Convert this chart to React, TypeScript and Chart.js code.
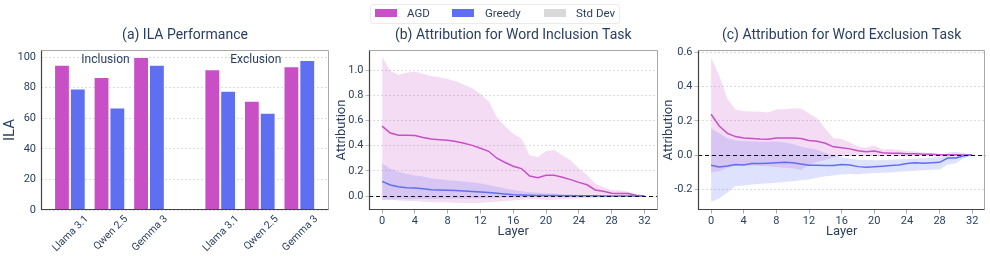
import React, { useEffect, useRef } from 'react';
import { Chart, registerables } from 'chart.js';

Chart.register(...registerables);
Chart.defaults.font.family = 'Roboto, "Noto Sans", sans-serif';

// ---------- data ----------
const modelLabels = ['Llama 3.1', 'Qwen 2.5', 'Gemma 3', 'Llama 3.1', 'Qwen 2.5', 'Gemma 3'];
const barPositions = [0, 1, 2, 3.8, 4.8, 5.8];
const agdILA = [95, 87, 100, 92, 71.5, 94];
const greedyILA = [79.5, 67, 95, 78, 63.5, 98];
const groupLabels = ['Inclusion', 'Exclusion'];
const groupLabelX = [0.9, 4.7];
const groupLabelY = 98;
const ilaTicks = [0, 20, 40, 60, 80, 100];

const layers = [0, 1, 2, 3, 4, 5, 6, 7, 8, 9, 10, 11, 12, 13, 14, 15, 16, 17, 18, 19, 20, 21, 22, 23, 24, 25, 26, 27, 28, 29, 30, 31, 32];
const layerTicks = [0, 4, 8, 12, 16, 20, 24, 28, 32];
const inclusionTicks = [0, 0.2, 0.4, 0.6, 0.8, 1.0];
const exclusionTicks = [-0.2, 0, 0.2, 0.4, 0.6];

// (b) word inclusion
const agdMeanB = [0.555, 0.5, 0.482, 0.483, 0.48, 0.465, 0.452, 0.447, 0.442, 0.432, 0.418, 0.402, 0.379, 0.355, 0.3, 0.266, 0.236, 0.218, 0.158, 0.145, 0.165, 0.164, 0.149, 0.13, 0.108, 0.089, 0.048, 0.037, 0.022, 0.02, 0.02, 0.006, 0.0];
const agdUpperB = [1.105, 0.995, 0.963, 0.979, 0.987, 0.968, 0.952, 0.942, 0.929, 0.91, 0.884, 0.855, 0.81, 0.752, 0.626, 0.553, 0.495, 0.455, 0.324, 0.31, 0.355, 0.365, 0.322, 0.284, 0.218, 0.166, 0.1, 0.069, 0.047, 0.045, 0.034, 0.008, 0.0];
const agdLowerB = [-0.03, -0.03, -0.035, -0.04, -0.04, -0.045, -0.05, -0.05, -0.05, -0.055, -0.055, -0.055, -0.055, -0.05, -0.045, -0.04, -0.035, -0.03, -0.025, -0.025, -0.032, -0.03, -0.025, -0.022, -0.02, -0.016, -0.013, -0.012, -0.01, -0.008, -0.006, -0.003, 0.0];
const greedyMeanB = [0.116, 0.087, 0.074, 0.066, 0.063, 0.057, 0.05, 0.048, 0.046, 0.043, 0.04, 0.036, 0.032, 0.027, 0.021, 0.016, 0.011, 0.009, 0.007, 0.005, 0.004, 0.004, 0.003, 0.003, 0.002, 0.002, 0.002, 0.001, 0.001, 0.001, 0.001, 0.0, 0.0];
const greedyUpperB = [0.258, 0.216, 0.192, 0.174, 0.163, 0.155, 0.14, 0.133, 0.126, 0.121, 0.116, 0.108, 0.1, 0.088, 0.074, 0.06, 0.047, 0.038, 0.03, 0.025, 0.02, 0.018, 0.015, 0.012, 0.01, 0.009, 0.007, 0.006, 0.005, 0.004, 0.003, 0.002, 0.0];
const greedyLowerB = [-0.03, -0.028, -0.026, -0.025, -0.025, -0.024, -0.024, -0.023, -0.022, -0.022, -0.021, -0.02, -0.02, -0.018, -0.016, -0.014, -0.012, -0.01, -0.008, -0.007, -0.006, -0.005, -0.004, -0.004, -0.003, -0.003, -0.002, -0.002, -0.002, -0.001, -0.001, 0.0, 0.0];

// (c) word exclusion
const agdMeanC = [0.239, 0.17, 0.127, 0.108, 0.1, 0.097, 0.094, 0.093, 0.1, 0.1, 0.1, 0.097, 0.085, 0.081, 0.069, 0.048, 0.042, 0.036, 0.025, 0.019, 0.023, 0.013, 0.011, 0.01, 0.008, 0.008, 0.005, 0.004, 0.002, 0.001, 0.001, 0.0, 0.0];
const agdUpperC = [0.571, 0.465, 0.33, 0.266, 0.256, 0.255, 0.253, 0.249, 0.266, 0.268, 0.272, 0.272, 0.243, 0.214, 0.156, 0.098, 0.094, 0.074, 0.05, 0.043, 0.055, 0.033, 0.035, 0.029, 0.023, 0.021, 0.015, 0.01, 0.006, 0.004, 0.004, 0.002, 0.0];
const agdLowerC = [-0.103, -0.095, -0.075, -0.065, -0.06, -0.062, -0.064, -0.066, -0.07, -0.074, -0.078, -0.088, -0.06, -0.04, -0.027, -0.015, -0.008, -0.006, -0.005, -0.005, -0.005, -0.004, -0.004, -0.003, -0.003, -0.003, -0.002, -0.002, -0.002, -0.001, -0.001, 0.0, 0.0];
const greedyMeanC = [-0.06, -0.07, -0.064, -0.056, -0.058, -0.05, -0.05, -0.048, -0.045, -0.043, -0.045, -0.052, -0.06, -0.06, -0.062, -0.062, -0.056, -0.058, -0.068, -0.071, -0.069, -0.066, -0.062, -0.058, -0.05, -0.046, -0.048, -0.046, -0.043, -0.018, -0.018, -0.004, 0.0];
const greedyUpperC = [0.156, 0.127, 0.098, 0.085, 0.081, 0.08, 0.077, 0.077, 0.079, 0.073, 0.064, 0.05, 0.04, 0.031, 0.012, -0.004, -0.015, -0.02, -0.027, -0.028, -0.031, -0.029, -0.027, -0.025, -0.023, -0.021, -0.019, -0.016, -0.012, 0.015, 0.017, 0.012, 0.0];
const greedyLowerC = [-0.274, -0.255, -0.22, -0.182, -0.178, -0.172, -0.168, -0.166, -0.162, -0.158, -0.153, -0.148, -0.143, -0.133, -0.124, -0.12, -0.114, -0.11, -0.112, -0.108, -0.106, -0.104, -0.102, -0.098, -0.095, -0.092, -0.089, -0.087, -0.085, -0.056, -0.048, -0.018, 0.0];

// ---------- styles ----------
const AGD = '#C94FC6';
const GREEDY = '#5F6FF2';
const AGD_BAND = 'rgba(201, 79, 198, 0.2)';
const GREEDY_BAND = 'rgba(95, 111, 242, 0.2)';
const STD = '#d9d9d9';
const TEXT = '#2a3f5f';
const GRID = '#d4d4d4';
const H = 257;

const framePlugin = {
  id: 'frame',
  afterDatasetsDraw(chart: any, _args: any, opts: any) {
    const { ctx, chartArea } = chart;
    const { left, right } = chartArea;
    ctx.save();
    if (opts && opts.zeroLine) {
      const y = Math.round(chart.scales.y.getPixelForValue(0)) + 0.5;
      ctx.setLineDash([4, 3]);
      ctx.strokeStyle = '#111';
      ctx.lineWidth = 1;
      ctx.beginPath();
      ctx.moveTo(left, y);
      ctx.lineTo(right, y);
      ctx.stroke();
      ctx.setLineDash([]);
    }
    if (opts && opts.labels) {
      ctx.fillStyle = TEXT;
      ctx.font = '12px Roboto, "Noto Sans", sans-serif';
      ctx.textAlign = 'center';
      ctx.textBaseline = 'middle';
      opts.labels.forEach((t: string, i: number) => {
        ctx.fillText(t, chart.scales.x.getPixelForValue(opts.labelX[i]), chart.scales.y.getPixelForValue(opts.labelY));
      });
    }
    ctx.restore();
  },
  afterDraw(chart: any) {
    const { ctx, chartArea } = chart;
    const l = Math.round(chartArea.left) + 0.5;
    const r = Math.round(chartArea.right) - 0.5;
    const t = Math.round(chartArea.top) + 0.5;
    const b = Math.round(chartArea.bottom) - 0.5;
    ctx.save();
    ctx.lineWidth = 1;
    ctx.strokeStyle = '#a8a8a8';
    ctx.beginPath();
    ctx.moveTo(l, t);
    ctx.lineTo(r, t);
    ctx.lineTo(r, b);
    ctx.stroke();
    ctx.strokeStyle = '#444';
    ctx.lineWidth = 1.2;
    ctx.beginPath();
    ctx.moveTo(l, t);
    ctx.lineTo(l, b);
    ctx.lineTo(r, b);
    ctx.stroke();
    ctx.restore();
  },
};

const tickFont = { size: 11 };
const titleFont = { size: 14, weight: 'normal' };
const titlePadding = { top: 26.6, bottom: 6.6 };

function pts(arr: number[]) {
  return arr.map((y, i) => ({ x: layers[i], y }));
}

function makeBarConfig(): any {
  return {
    type: 'bar',
    data: {
      datasets: [
        {
          label: 'AGD',
          data: barPositions.map((x, i) => ({ x, y: agdILA[i] })),
          backgroundColor: AGD,
          borderColor: 'rgba(255,255,255,0.3)',
          borderWidth: 1,
          categoryPercentage: 0.8,
          barPercentage: 1.0,
        },
        {
          label: 'Greedy',
          data: barPositions.map((x, i) => ({ x, y: greedyILA[i] })),
          backgroundColor: GREEDY,
          borderColor: 'rgba(255,255,255,0.3)',
          borderWidth: 1,
          categoryPercentage: 0.8,
          barPercentage: 1.0,
        },
      ],
    },
    plugins: [framePlugin],
    options: {
      animation: false,
      responsive: false,
      layout: { padding: { left: 0, right: 1, top: 0, bottom: 0 } },
      plugins: {
        legend: { display: false },
        tooltip: { enabled: false },
        title: {
          display: true,
          fullSize: false,
          text: '(a) ILA Performance',
          color: TEXT,
          font: titleFont,
          padding: titlePadding,
        },
        frame: { labels: groupLabels, labelX: groupLabelX, labelY: groupLabelY },
      },
      scales: {
        x: {
          type: 'linear',
          min: -0.73,
          max: 6.55,
          offset: false,
          afterBuildTicks: (s: any) => {
            s.ticks = barPositions.map((v) => ({ value: v }));
          },
          afterFit: (s: any) => {
            s.height = 47;
          },
          grid: { drawOnChartArea: false, drawTicks: false },
          border: { display: false },
          ticks: {
            autoSkip: false,
            minRotation: 45,
            maxRotation: 45,
            labelOffset: 17,
            padding: 3,
            color: TEXT,
            font: { size: 10.5 },
            callback: (_v: any, i: number) => modelLabels[i],
          },
        },
        y: {
          min: 0,
          max: 104.6,
          afterBuildTicks: (s: any) => {
            s.ticks = ilaTicks.map((v) => ({ value: v }));
          },
          afterFit: (s: any) => {
            s.width = 41;
          },
          grid: { color: GRID, lineWidth: 0.8, drawTicks: true, tickLength: 3, tickColor: 'rgba(0,0,0,0)' },
          border: { display: false, dash: [2, 2] },
          ticks: { padding: 2, color: TEXT, font: tickFont },
          title: { display: true, text: 'ILA', color: TEXT, font: { size: 15 }, padding: { top: 1, bottom: 0 } },
        },
      },
    },
  };
}

function makeLineConfig(
  title: string,
  agdMean: number[],
  agdUpper: number[],
  agdLower: number[],
  greedyMean: number[],
  greedyUpper: number[],
  greedyLower: number[],
  yMin: number,
  yMax: number,
  yTicks: number[],
  yWidth: number,
  yTitlePad: number,
  rightPad: number
): any {
  const none = 'rgba(0,0,0,0)';
  return {
    type: 'line',
    data: {
      datasets: [
        { label: 'AGD upper', data: pts(agdUpper), fill: '+1', backgroundColor: AGD_BAND, borderColor: none, pointRadius: 0, order: 5 },
        { label: 'AGD lower', data: pts(agdLower), fill: false, borderColor: none, pointRadius: 0, order: 5 },
        { label: 'Greedy upper', data: pts(greedyUpper), fill: '+1', backgroundColor: GREEDY_BAND, borderColor: none, pointRadius: 0, order: 3 },
        { label: 'Greedy lower', data: pts(greedyLower), fill: false, borderColor: none, pointRadius: 0, order: 3 },
        { label: 'AGD', data: pts(agdMean), fill: false, borderColor: AGD, borderWidth: 1.5, pointRadius: 0, order: 1 },
        { label: 'Greedy', data: pts(greedyMean), fill: false, borderColor: GREEDY, borderWidth: 1.5, pointRadius: 0, order: 0 },
      ],
    },
    plugins: [framePlugin],
    options: {
      animation: false,
      responsive: false,
      layout: { padding: { left: 0, right: rightPad, top: 0, bottom: 0 } },
      elements: { line: { tension: 0 } },
      plugins: {
        legend: { display: false },
        tooltip: { enabled: false },
        title: {
          display: true,
          fullSize: false,
          text: title,
          color: TEXT,
          font: titleFont,
          padding: titlePadding,
        },
        frame: { zeroLine: true },
      },
      scales: {
        x: {
          type: 'linear',
          min: -1.6,
          max: 33.6,
          afterBuildTicks: (s: any) => {
            s.ticks = layerTicks.map((v) => ({ value: v }));
          },
          afterFit: (s: any) => {
            s.height = 47;
          },
          grid: { drawOnChartArea: false, drawTicks: true, tickLength: 3.5, tickColor: '#aaa' },
          border: { display: false },
          ticks: { padding: 1, color: TEXT, font: tickFont, maxRotation: 0 },
          title: { display: true, text: 'Layer', color: TEXT, font: { size: 13 }, padding: { top: 0, bottom: 17 } },
        },
        y: {
          min: yMin,
          max: yMax,
          afterBuildTicks: (s: any) => {
            s.ticks = yTicks.map((v) => ({ value: v }));
          },
          afterFit: (s: any) => {
            s.width = yWidth;
          },
          grid: { color: GRID, lineWidth: 0.8, drawTicks: true, tickLength: 3.5, tickColor: '#aaa' },
          border: { display: false, dash: [2, 2] },
          ticks: { padding: 2, color: TEXT, font: tickFont, callback: (v: number) => v.toFixed(1) },
          title: { display: true, text: 'Attribution', color: TEXT, font: { size: 13 }, padding: { top: yTitlePad, bottom: 0 } },
        },
      },
    },
  };
}

function ChartCanvas({ left, width, make }: { left: number; width: number; make: () => any }) {
  const ref = useRef<HTMLCanvasElement>(null);
  useEffect(() => {
    const chart = new Chart(ref.current as HTMLCanvasElement, make());
    return () => chart.destroy();
  }, []);
  return (
    <canvas
      ref={ref}
      width={width}
      height={H}
      style={{ position: 'absolute', left, top: 0, width, height: H, display: 'block' }}
    />
  );
}

const legendItems = [
  { label: 'AGD', color: AGD, swatchLeft: 5, textLeft: 37 },
  { label: 'Greedy', color: GREEDY, swatchLeft: 82, textLeft: 115 },
  { label: 'Std Dev', color: STD, swatchLeft: 174, textLeft: 206 },
];

function Legend() {
  return (
    <div
      style={{
        position: 'absolute',
        left: 370,
        top: 4,
        width: 250,
        height: 20,
        boxSizing: 'border-box',
        border: '1px solid #ebebeb',
        borderRadius: 3,
        background: '#fff',
        fontFamily: 'Roboto, "Noto Sans", sans-serif',
        fontSize: 11.5,
        color: TEXT,
      }}
    >
      {legendItems.map((it) => (
        <React.Fragment key={it.label}>
          <div
            style={{ position: 'absolute', left: it.swatchLeft - 1, top: 4, width: 22, height: 8, background: it.color }}
          />
          <span style={{ position: 'absolute', left: it.textLeft - 1, top: -1, lineHeight: '19px', whiteSpace: 'nowrap' }}>
            {it.label}
          </span>
        </React.Fragment>
      ))}
    </div>
  );
}

export default function App() {
  return (
    <div style={{ position: 'absolute', left: 0, top: 0, width: 990, height: H, background: '#fff', overflow: 'hidden' }}>
      <ChartCanvas left={0} width={330} make={makeBarConfig} />
      <ChartCanvas
        left={330}
        width={330}
        make={() =>
          makeLineConfig(
            '(b) Attribution for Word Inclusion Task',
            agdMeanB, agdUpperB, agdLowerB, greedyMeanB, greedyUpperB, greedyLowerB,
            -0.111, 1.159, inclusionTicks, 39, 4, 2.5
          )
        }
      />
      <ChartCanvas
        left={660}
        width={330}
        make={() =>
          makeLineConfig(
            '(c) Attribution for Word Exclusion Task',
            agdMeanC, agdUpperC, agdLowerC, greedyMeanC, greedyUpperC, greedyLowerC,
            -0.322, 0.615, exclusionTicks, 38, 1, 4.7
          )
        }
      />
      <Legend />
    </div>
  );
}
